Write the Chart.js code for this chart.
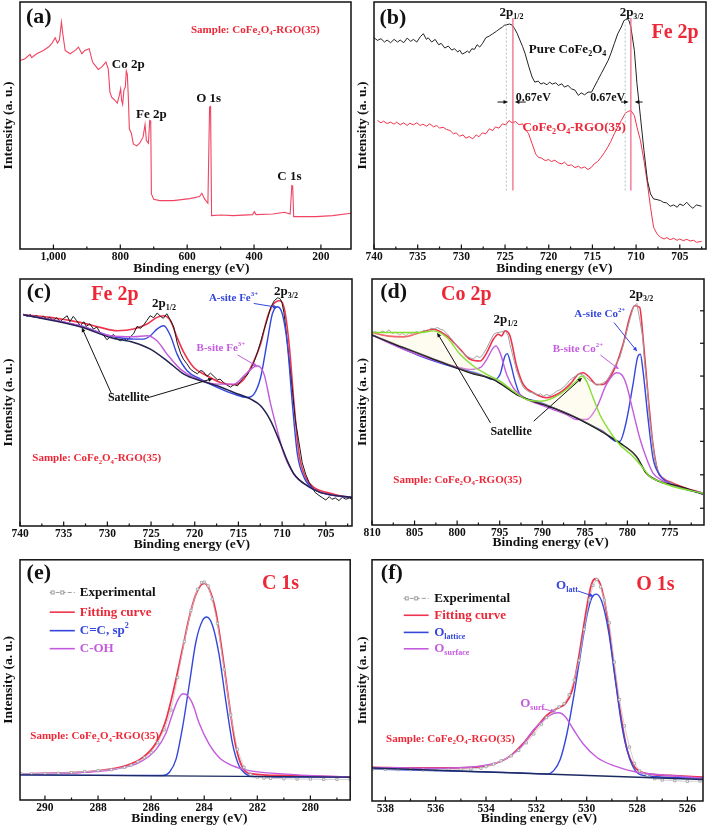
<!DOCTYPE html>
<html>
<head>
<meta charset="utf-8">
<script src="https://cdn.jsdelivr.net/npm/chart.js@4.4.0/dist/chart.umd.min.js"></script>
<style>
  body { margin: 0; background: #fff; }
  .panel { position: absolute; }
</style>
</head>
<body>
<div class="panel" style="left:0;top:0"><canvas id="pa" width="355" height="278"></canvas></div>
<div class="panel" style="left:354px;top:0"><canvas id="pb" width="355" height="278"></canvas></div>
<div class="panel" style="left:0;top:278px"><canvas id="pc" width="355" height="277"></canvas></div>
<div class="panel" style="left:354px;top:278px"><canvas id="pd" width="355" height="277"></canvas></div>
<div class="panel" style="left:0;top:555px"><canvas id="pe" width="355" height="274"></canvas></div>
<div class="panel" style="left:354px;top:555px"><canvas id="pf" width="355" height="274"></canvas></div>
<script>
// ---- tick labels ----
const ticksA = [1000, 800, 600, 400, 200];
const ticksFe = [740, 735, 730, 725, 720, 715, 710, 705];
const ticksCo = [810, 805, 800, 795, 790, 785, 780, 775];
const ticksC = [290, 288, 286, 284, 282, 280];
const ticksO = [538, 536, 534, 532, 530, 528, 526];
const ticksCoY = [640, 543, 445, 347, 250, 150, 50];

// ---- (a) survey spectrum [binding energy, intensity a.u.] ----
const survey = [[1099,565],[1085,570],[1070,583],[1065,573],[1050,585],[1030,595],[1015,605],[1005,615],[995,633],[988,617],[982,627],[976,680],[972,645],[965,595],[950,585],[935,595],[925,605],[915,585],[906,595],[893,600],[883,560],[866,538],[856,545],[843,560],[836,540],[831,470],[826,455],[816,445],[809,437],[803,460],[799,480],[796,445],[793,433],[789,477],[785,485],[782,533],[779,523],[776,455],[773,360],[767,347],[761,315],[751,309],[742,317],[732,335],[726,373],[722,325],[716,317],[712,385],[709,383],[707,165],[700,149],[682,145],[642,145],[592,151],[563,157],[556,167],[548,150],[538,137],[533,425],[530,427],[527,100],[498,102],[463,100],[404,103],[399,112],[394,103],[344,105],[309,110],[292,105],[287,190],[284.5,189],[281.5,97],[215,97],[165,100],[110,107]];

// ---- (b) Fe 2p comparison ----
const fePure = [[740,633],[739.6,625],[739.2,630],[738.8,620],[738.5,626],[738.1,618],[737.7,628],[737.3,620],[737.0,626],[736.6,618],[736.2,632],[735.8,622],[735.5,628],[735.1,620],[734.7,636],[734.35,645],[734.0,628],[733.8,633],[733.4,620],[733.0,628],[732.6,612],[732.3,616],[731.9,602],[731.5,608],[731.1,596],[730.8,600],[730.4,590],[730.2,596],[729.9,584],[729.6,588],[729.3,593],[729.1,588],[728.8,600],[728.5,598],[728.2,612],[727.9,605],[727.6,615],[727.2,633],[726.8,638],[726.4,645],[726.0,652],[725.7,658],[725.3,665],[725.1,670],[724.8,672],[724.5,674],[724.2,671],[723.9,660],[723.6,645],[723.4,632],[723.0,607],[722.7,585],[722.3,548],[721.9,515],[721.6,500],[721.2,503],[720.9,494],[720.6,498],[720.2,492],[719.9,500],[719.6,494],[719.2,498],[718.9,490],[718.5,495],[718.2,485],[717.8,490],[717.4,480],[717.0,476],[716.6,460],[716.3,468],[715.9,462],[715.5,470],[715.1,470],[714.8,485],[714.4,505],[714.0,525],[713.6,545],[713.2,565],[712.9,585],[712.5,615],[712.1,645],[711.7,665],[711.4,684],[711.0,690],[710.8,683],[710.6,665],[710.2,595],[709.9,495],[709.5,395],[709.1,295],[708.7,205],[708.35,165],[708.0,150],[707.6,148],[707.2,145],[706.9,140],[706.5,138],[706.1,128],[705.7,132],[705.3,125],[705.0,135],[704.6,130],[704.2,140],[703.8,128],[703.5,122],[703.1,132],[702.5,128]];
const feRgo = [[739.6,385],[739.2,378],[738.9,383],[738.5,376],[738.1,380],[737.7,374],[737.4,380],[737.0,372],[736.6,378],[736.2,370],[735.9,377],[735.5,372],[735.1,378],[734.7,370],[734.4,374],[734.0,368],[733.6,375],[733.2,366],[732.8,370],[732.5,362],[732.1,365],[731.7,358],[731.3,355],[730.9,345],[730.6,348],[730.2,338],[729.8,342],[729.5,332],[729.1,337],[728.7,330],[728.3,342],[728.0,336],[727.6,348],[727.2,345],[726.8,360],[726.4,355],[726.1,366],[725.7,362],[725.3,375],[724.9,372],[724.55,385],[724.2,378],[723.8,382],[723.4,372],[723.0,375],[722.7,360],[722.3,345],[721.9,315],[721.5,285],[721.2,275],[720.8,272],[720.4,265],[720.0,268],[719.7,262],[719.3,266],[718.9,258],[718.5,255],[718.2,260],[717.8,250],[717.4,252],[717.0,244],[716.6,248],[716.3,242],[715.9,246],[715.5,238],[715.1,245],[714.8,255],[714.4,262],[714.0,275],[713.6,290],[713.25,305],[712.9,322],[712.5,345],[712.1,365],[711.7,385],[711.2,408],[710.9,412],[710.6,415],[710.2,400],[709.9,365],[709.5,325],[709.1,265],[708.7,195],[708.35,125],[708.0,65],[707.6,45],[707.2,35],[706.8,30],[706.5,34],[706.1,28],[705.7,32],[705.3,26],[705.0,30],[704.6,25],[704.2,29],[703.8,24],[703.4,26],[703.1,20],[702.5,23]];
const pureLines = [724.85, 711.25];
const rgoLines = [724.1, 710.6];
const lineSpan = [175, 680];

// ---- (c) Fe 2p fit ----
const feExp = [[739.6,635],[739.2,628],[738.8,633],[738.5,626],[738.1,630],[737.7,622],[737.3,628],[736.9,620],[736.6,625],[736.2,616],[735.8,624],[735.4,612],[735.0,622],[734.6,630],[734.3,612],[733.9,628],[733.5,615],[733.1,600],[732.7,612],[732.4,598],[732.0,606],[731.6,590],[731.2,596],[730.8,578],[730.4,570],[730.05,558],[729.7,566],[729.3,574],[728.9,560],[728.5,555],[728.1,562],[727.8,556],[727.4,566],[727.0,576],[726.6,598],[726.2,592],[725.8,604],[725.5,615],[725.1,630],[724.7,624],[724.3,638],[723.9,628],[723.6,622],[723.2,636],[722.8,618],[722.4,596],[722.0,548],[721.6,516],[721.3,500],[720.9,486],[720.5,470],[720.1,462],[719.7,456],[719.3,466],[719.0,462],[718.6,448],[718.2,458],[717.8,448],[717.4,438],[717.1,440],[716.7,430],[716.3,422],[715.9,416],[715.5,424],[715.1,420],[714.8,432],[714.4,445],[714.0,452],[713.6,470],[713.2,492],[712.8,522],[712.5,548],[712.1,585],[711.7,618],[711.3,655],[710.9,675],[710.5,684],[710.2,680],[710.0,668],[709.8,640],[709.6,598],[709.2,498],[708.8,400],[708.5,320],[708.1,255],[707.7,190],[707.3,155],[706.9,130],[706.5,112],[706.2,100],[705.8,92],[705.4,85],[705.0,78],[704.6,88],[704.3,80],[703.9,84],[703.5,76],[703.1,86],[702.7,80],[702.3,84],[702.0,80]];
const feFit = [[739.62,633],[736.56,625],[733.11,610],[730.82,595],[728.91,585],[726.99,590],[725.46,605],[724.32,625],[723.55,630],[722.78,615],[722.02,565],[721.25,520],[720.11,475],[718.58,450],[717.05,430],[715.52,423],[714.37,440],[713.22,495],[712.46,545],[711.69,625],[711.12,660],[710.35,675],[709.78,655],[709.2,545],[708.63,365],[708.06,215],[707.29,145],[706.34,115],[704.8,100],[703.27,90],[701.94,85]];
const feA = [[739.62,633],[733.11,600],[729.67,570],[726.99,560],[725.85,560],[725.08,570],[724.32,590],[723.55,600],[722.78,570],[722.02,515],[720.87,465],[719.34,440],[717.43,415],[715.52,395],[713.99,385],[713.22,395],[712.46,445],[711.69,555],[711.12,635],[710.54,657],[709.97,635],[709.4,545],[708.82,365],[708.25,215],[707.48,145],[706.34,110],[704.8,95],[701.94,85]];
const feB = [[739.62,633],[733.11,600],[729.67,570],[726.99,567],[725.46,570],[724.32,555],[723.17,515],[721.64,470],[720.11,445],[717.43,425],[715.52,425],[713.99,460],[712.84,480],[712.07,455],[711.31,365],[710.54,285],[709.78,215],[708.63,155],[707.1,120],[705.57,100],[701.94,85]];
const feBg = [[739.62,633],[733.11,597],[729.67,565],[726.99,550],[725.08,530],[723.17,495],[721.25,455],[719.34,435],[717.43,420],[715.52,400],[713.6,380],[712.46,360],[711.31,315],[710.16,245],[709.4,195],[708.63,155],[707.1,120],[705.57,100],[701.94,85]];

// ---- (d) Co 2p fit ----
const coExp = [[810,575],[809.6,578],[809.2,572],[808.8,580],[808.4,575],[808.0,583],[807.6,572],[807.2,576],[806.8,568],[806.4,572],[806.0,566],[805.6,574],[805.2,570],[804.8,578],[804.3,574],[803.9,582],[803.5,578],[803.1,588],[802.7,586],[802.3,590],[801.9,584],[801.6,582],[801.2,572],[800.8,560],[800.4,548],[800.0,534],[799.6,520],[799.2,512],[798.9,505],[798.5,500],[798.1,496],[797.7,505],[797.3,500],[796.9,512],[796.5,530],[796.1,550],[795.7,570],[795.4,574],[795.0,576],[794.6,578],[794.4,582],[794.0,566],[793.8,540],[793.4,500],[793.0,460],[792.6,432],[792.2,410],[791.8,402],[791.4,396],[791.0,395],[790.6,388],[790.2,392],[789.9,385],[789.5,390],[789.1,386],[788.7,392],[788.3,400],[787.9,404],[787.5,412],[787.1,422],[786.8,432],[786.4,440],[786.0,446],[785.6,452],[785.2,448],[784.8,440],[784.4,432],[784.0,425],[783.6,418],[783.2,420],[782.9,424],[782.5,430],[782.1,445],[781.7,465],[781.3,482],[780.9,500],[780.5,535],[780.1,575],[779.7,615],[779.3,650],[778.9,662],[778.6,622],[778.2,560],[778.0,490],[777.6,390],[777.4,320],[777.0,240],[776.8,200],[776.4,160],[776.0,145],[775.6,135],[775.2,128],[774.8,126],[774.3,118],[773.9,115],[773.5,108],[773.1,105],[772.7,102],[772.3,100],[771.9,96],[771.5,98],[771.1,95]];
const coFit = [[810,575],[808.24,565],[806.29,562],[804.34,575],[802.77,585],[801.21,565],[799.65,525],[798.48,495],[797.3,490],[796.52,515],[795.74,555],[795.16,570],[794.77,565],[794.38,580],[793.79,565],[793.01,475],[792.23,420],[791.05,395],[789.49,380],[787.93,395],[786.76,420],[785.78,450],[785.2,455],[784.41,440],[783.63,420],[782.85,420],[782.07,440],[781.29,480],[780.51,540],[779.73,620],[779.14,655],[778.55,650],[778.16,560],[777.58,390],[776.99,240],[776.41,160],[775.82,140],[774.65,125],[773.09,110],[771.13,95]];
const coSat = [[810,575],[804.34,575],[802.77,580],[801.21,560],[799.65,510],[798.09,475],[796.52,450],[794.96,430],[793.4,400],[791.84,375],[790.27,370],[788.71,380],[787.15,405],[785.98,430],[785.39,445],[784.8,430],[784.02,380],[783.24,330],[782.07,280],[780.9,240],[779.34,205],[778.16,170],[777.38,145],[776.21,130],[774.65,115],[771.13,95]];
const coB = [[810,568],[806.29,525],[802.38,490],[800.43,475],[798.48,465],[797.3,470],[796.52,495],[795.74,530],[795.43,535],[794.96,515],[794.18,450],[793.4,410],[792.62,390],[791.84,375],[790.27,360],[788.71,345],[787.15,330],[785.98,315],[784.8,315],[783.63,350],[782.46,420],[781.29,455],[780.7,450],[780.12,420],[779.34,340],[778.55,260],[777.77,200],[776.99,155],[775.82,132],[771.13,95]];
const coA = [[810,568],[804.34,505],[800.43,472],[797.3,450],[795.74,435],[794.96,450],[794.38,505],[794.1,512],[793.79,490],[793.2,430],[792.62,390],[790.66,370],[788.71,350],[786.76,330],[784.8,305],[782.85,280],[781.29,250],[780.9,250],[780.12,310],[779.34,420],[778.75,505],[778.48,510],[778.16,460],[777.58,320],[776.99,200],[776.21,150],[774.65,120],[771.13,95]];
const coBg = [[810,568],[806.29,530],[802.38,492],[798.48,455],[795.74,435],[792.62,385],[788.71,350],[784.8,305],[780.9,245],[778.95,205],[777.77,155],[776.21,130],[773.87,115],[771.13,92]];

// ---- (e) C 1s fit ----
const cExp = [[290.9,80],[290.5,80],[290.0,81],[289.5,82],[289.0,84],[288.5,87],[288.0,90],[287.5,93],[287.0,100],[286.75,107],[286.5,117],[286.25,130],[286.0,145],[285.75,175],[285.5,215],[285.25,275],[285.0,375],[284.75,485],[284.5,580],[284.25,645],[284.1,665],[284.0,667],[283.85,655],[283.7,615],[283.5,540],[283.25,400],[283.0,260],[282.75,155],[282.5,100],[282.25,78],[282.0,70],[281.75,67],[281.5,66],[281.0,65],[280.5,64],[280.0,64],[279.5,63],[279.0,63],[278.5,63]];
const cFit = [[290.94,80],[289.19,83],[287.94,90],[286.94,105],[286.31,130],[285.81,175],[285.44,245],[285.13,345],[284.81,465],[284.56,560],[284.31,630],[284.13,657],[284.0,663],[283.81,645],[283.56,575],[283.31,445],[283.06,295],[282.81,165],[282.56,100],[282.19,80],[281.06,75],[278.5,70]];
const cSp2 = [[290.94,77],[285.94,75],[285.56,75],[285.31,85],[285.06,125],[284.81,225],[284.56,355],[284.31,485],[284.06,550],[283.91,560],[283.69,535],[283.44,445],[283.19,305],[282.94,175],[282.69,105],[282.44,80],[282.19,72],[278.5,70]];
const cOH = [[290.94,80],[288.56,85],[287.31,95],[286.44,115],[285.81,155],[285.44,205],[285.19,265],[285.0,305],[284.81,325],[284.69,323],[284.44,295],[284.19,235],[283.81,170],[283.44,130],[282.94,105],[282.31,90],[281.06,80],[278.5,70]];
const cBg = [[290.94,77],[278.5,70]];

// ---- (f) O 1s fit ----
const oExp = [[538.5,98],[538.0,97],[537.5,96],[537.0,96],[536.5,95],[536.0,94],[535.5,95],[535.0,97],[534.6,98],[534.2,100],[534.0,105],[533.7,113],[533.4,123],[533.0,138],[532.7,155],[532.4,178],[532.1,205],[531.8,235],[531.6,255],[531.3,275],[531.1,288],[530.9,298],[530.7,325],[530.5,370],[530.3,430],[530.1,525],[529.9,615],[529.75,660],[529.6,678],[529.45,655],[529.3,615],[529.1,545],[528.9,425],[528.7,310],[528.5,230],[528.3,165],[528.1,115],[527.9,92],[527.6,78],[527.3,68],[527.0,64],[526.5,62],[526.0,60],[525.5,61]];
const oFit = [[538.53,103],[536.61,101],[534.62,103],[533.7,113],[533.03,138],[532.5,178],[531.97,228],[531.58,263],[531.18,283],[530.85,298],[530.58,338],[530.32,438],[530.05,568],[529.83,658],[529.66,680],[529.46,663],[529.19,568],[528.93,418],[528.66,268],[528.4,158],[528.13,108],[527.74,86],[526.68,78],[525.38,73]];
const oLatt = [[538.53,98],[532.64,86],[531.58,83],[531.31,93],[531.05,128],[530.78,208],[530.52,318],[530.25,448],[529.99,568],[529.79,623],[529.62,633],[529.39,608],[529.13,518],[528.86,368],[528.6,228],[528.33,138],[528.07,93],[527.74,78],[525.38,70]];
const oSurf = [[538.53,103],[535.95,100],[533.96,110],[533.3,126],[532.64,163],[532.11,218],[531.71,248],[531.31,268],[531.11,270],[530.85,258],[530.52,218],[530.12,173],[529.59,133],[528.93,108],[528.0,88],[526.68,78],[525.38,70]];
const oBg = [[538.53,101],[525.38,66]];

// ---- styles ----
const FONT = '"Liberation Serif", "Times New Roman", serif';
const RED = '#f0324c';
const RED_T = '#ec2838';
const BLUE = '#3446dc';
const PURPLE = '#c45ade';
const GREEN = '#84e030';
const GRAY = '#9c9c9c';
const INK = '#111';

function parseRich(s) {
    const parts = [];
    const re = /([_^])\{([^}]*)\}/g;
    let last = 0, m;
    while ((m = re.exec(s))) {
        if (m.index > last) parts.push({ t: s.slice(last, m.index), k: 0 });
        parts.push({ t: m[2], k: m[1] === '_' ? 1 : 2 });
        last = re.lastIndex;
    }
    if (last < s.length) parts.push({ t: s.slice(last), k: 0 });
    return parts;
}

function drawRich(ctx, s, x, y, size, color, align) {
    const parts = parseRich(s);
    ctx.save();
    ctx.fillStyle = color;
    ctx.textBaseline = 'middle';
    ctx.textAlign = 'left';
    let w = 0;
    parts.forEach(p => {
        ctx.font = `bold ${p.k ? size * 0.62 : size}px ${FONT}`;
        p.w = ctx.measureText(p.t).width;
        w += p.w;
    });
    let cx = align === 'left' ? x : x - w / 2;
    parts.forEach(p => {
        ctx.font = `bold ${p.k ? size * 0.62 : size}px ${FONT}`;
        const dy = p.k === 1 ? size * 0.32 : p.k === 2 ? -size * 0.38 : 0;
        ctx.fillText(p.t, cx, y + dy);
        cx += p.w;
    });
    ctx.restore();
}

function arrow(ctx, x1, y1, x2, y2, color) {
    const a = Math.atan2(y2 - y1, x2 - x1), h = 5;
    ctx.save();
    ctx.strokeStyle = color; ctx.fillStyle = color; ctx.lineWidth = 1;
    ctx.beginPath(); ctx.moveTo(x1, y1); ctx.lineTo(x2 - Math.cos(a) * 3, y2 - Math.sin(a) * 3); ctx.stroke();
    ctx.beginPath();
    ctx.moveTo(x2, y2);
    ctx.lineTo(x2 - h * Math.cos(a - 0.4), y2 - h * Math.sin(a - 0.4));
    ctx.lineTo(x2 - h * Math.cos(a + 0.4), y2 - h * Math.sin(a + 0.4));
    ctx.closePath(); ctx.fill();
    ctx.restore();
}

// frame, inward ticks, x title, labels, arrows and legend
const decor = {
    id: 'decor',
    afterDatasetsDraw(chart, args, o) {
        const ctx = chart.ctx, ca = chart.chartArea;
        const px = f => ca.left + f * (ca.right - ca.left);
        const py = f => ca.top + f * (ca.bottom - ca.top);
        const xs = chart.scales.x, ys = chart.scales.y;
        ctx.save();
        ctx.strokeStyle = INK;
        ctx.lineWidth = 1.5;
        ctx.strokeRect(ca.left, ca.top, ca.right - ca.left, ca.bottom - ca.top);

        ctx.lineWidth = 1.2;
        const vals = xs.ticks.map(t => t.value);
        const step = Math.abs(vals[1] - vals[0]);
        const lo = Math.min(xs.min, xs.max), hi = Math.max(xs.min, xs.max);
        vals.forEach(v => {
            const p = xs.getPixelForValue(v);
            ctx.beginPath(); ctx.moveTo(p, ca.bottom); ctx.lineTo(p, ca.bottom - 4.5); ctx.stroke();
        });
        const minors = new Set();
        vals.forEach(v => [v - step / 2, v + step / 2].forEach(m => { if (m > lo && m < hi) minors.add(m); }));
        minors.forEach(v => {
            const p = xs.getPixelForValue(v);
            ctx.beginPath(); ctx.moveTo(p, ca.bottom); ctx.lineTo(p, ca.bottom - 2.5); ctx.stroke();
        });
        if (o.rightTicks) {
            ys.ticks.forEach(t => {
                const p = ys.getPixelForValue(t.value);
                ctx.beginPath(); ctx.moveTo(ca.right, p); ctx.lineTo(ca.right - 4, p); ctx.stroke();
            });
        }
        ctx.restore();

        drawRich(ctx, 'Binding energy (eV)', px(o.titleX), ca.bottom + o.titleDy, 13.5, INK, 'center');
        (o.texts || []).forEach(t => drawRich(ctx, t.s, px(t.fx), py(t.fy), t.size || 13, t.c || INK, t.align || 'center'));
        (o.arrows || []).forEach(a => arrow(ctx, px(a[0]), py(a[1]), px(a[2]), py(a[3]), a[4] || INK));

        if (o.legend) {
            const L = o.legend;
            L.items.forEach((it, i) => {
                const y = py(L.rows[i]), x0 = px(L.x0), x1 = px(L.x1);
                ctx.save();
                ctx.strokeStyle = it.line;
                ctx.lineWidth = it.exp ? 1 : 1.6;
                if (it.exp) ctx.setLineDash([4, 2]);
                ctx.beginPath(); ctx.moveTo(x0, y); ctx.lineTo(x1, y); ctx.stroke();
                ctx.setLineDash([]);
                if (it.exp) {
                    [x0 + 3, (x0 + x1) / 2].forEach(x => {
                        ctx.fillStyle = '#fff'; ctx.fillRect(x - 1.5, y - 1.5, 3, 3);
                        ctx.strokeRect(x - 1.5, y - 1.5, 3, 3);
                    });
                }
                ctx.restore();
                drawRich(ctx, it.s, px(L.tx), y, 13, it.c, 'left');
            });
        }
    }
};
Chart.register(decor);

function series(data, color, width, extra) {
    return Object.assign({
        data: data.map(p => ({ x: p[0], y: p[1] })),
        borderColor: color,
        borderWidth: width,
        pointRadius: 0,
        fill: false,
        tension: 0
    }, extra || {});
}
const smooth = { cubicInterpolationMode: 'monotone' };
const dots = { pointRadius: 1.6, pointStyle: 'rect', pointBorderColor: GRAY, pointBackgroundColor: '#fff', pointBorderWidth: 0.8 };

function makePanel(id, cfg) {
    new Chart(document.getElementById(id), {
        type: 'line',
        data: { datasets: cfg.datasets },
        options: {
            responsive: false,
            animation: false,
            events: [],
            layout: { padding: { left: 0, top: cfg.top, right: cfg.right, bottom: 0 } },
            plugins: { legend: { display: false }, tooltip: { enabled: false }, decor: cfg.decor },
            scales: {
                x: {
                    type: 'linear', reverse: true, min: cfg.xmin, max: cfg.xmax,
                    grid: { display: false, drawTicks: false }, border: { display: false },
                    ticks: { font: { family: FONT, size: 11.5, weight: 'bold' }, color: INK, padding: 1, maxRotation: 0, autoSkip: false },
                    afterBuildTicks: s => { s.ticks = cfg.xticks.map(v => ({ value: v })); },
                    afterFit: s => { s.height = cfg.xh; }
                },
                y: {
                    type: 'linear', min: 0, max: cfg.ymax,
                    grid: { display: false, drawTicks: false }, border: { display: false },
                    ticks: { display: false },
                    title: { display: true, text: 'Intensity (a. u.)', font: { family: FONT, size: 13.5, weight: 'bold' }, color: INK, padding: 0 },
                    afterBuildTicks: s => { if (cfg.yticks) s.ticks = cfg.yticks.map(v => ({ value: v })); },
                    afterFit: s => { s.width = cfg.yw; }
                }
            }
        }
    });
}

const sampleText = 'Sample: CoFe_{2}O_{4}-RGO(35)';

// (a)
makePanel('pa', {
    top: 2, right: 4, yw: 20, xh: 29, xmin: 110, xmax: 1100, xticks: ticksA, ymax: 740,
    datasets: [series(survey, '#f04462', 1.1)],
    decor: {
        titleX: 0.518, titleDy: 20,
        texts: [
            { s: '(a)', fx: 0.057, fy: 0.061, size: 22 },
            { s: sampleText, fx: 0.711, fy: 0.112, size: 11, c: RED_T },
            { s: 'Co 2p', fx: 0.327, fy: 0.253 },
            { s: 'Fe 2p', fx: 0.397, fy: 0.455 },
            { s: 'O 1s', fx: 0.570, fy: 0.392 },
            { s: 'C 1s', fx: 0.814, fy: 0.707 }
        ]
    }
});

// (b)
const vlines = [];
pureLines.forEach(v => vlines.push(series([[v, lineSpan[0]], [v, lineSpan[1]]], '#b4c0c0', 1, { borderDash: [2, 2] })));
rgoLines.forEach(v => vlines.push(series([[v, lineSpan[0]], [v, lineSpan[1] + 12]], '#f06a8a', 1.3)));
makePanel('pb', {
    top: 2, right: 3, yw: 20, xh: 29, xmin: 702, xmax: 740, xticks: ticksFe, ymax: 740,
    datasets: vlines.concat([series(fePure, '#222', 1), series(feRgo, RED, 1)]),
    decor: {
        titleX: 0.543, titleDy: 20,
        texts: [
            { s: '(b)', fx: 0.057, fy: 0.068, size: 22 },
            { s: '2p_{1/2}', fx: 0.414, fy: 0.045 },
            { s: '2p_{3/2}', fx: 0.776, fy: 0.045 },
            { s: 'Fe 2p', fx: 0.907, fy: 0.124, size: 20, c: RED_T },
            { s: 'Pure CoFe_{2}O_{4}', fx: 0.583, fy: 0.193 },
            { s: '0.67eV', fx: 0.480, fy: 0.388, size: 12 },
            { s: '0.67eV', fx: 0.704, fy: 0.388, size: 12 },
            { s: 'CoFe_{2}O_{4}-RGO(35)', fx: 0.603, fy: 0.509, c: RED_T }
        ],
        arrows: [[0.372, 0.405, 0.404, 0.405], [0.457, 0.405, 0.424, 0.405], [0.744, 0.405, 0.767, 0.405], [0.809, 0.405, 0.785, 0.405]]
    }
});

// (c)
makePanel('pc', {
    top: 1, right: 3, yw: 20, xh: 29, xmin: 702, xmax: 740, xticks: ticksFe, ymax: 740,
    datasets: [
        series(feBg, '#22224e', 1.5, smooth),
        series(feB, PURPLE, 1.4, smooth),
        series(feA, BLUE, 1.4, smooth),
        series(feExp, '#1a1a1a', 1),
        series(feFit, RED, 1.6, smooth)
    ],
    decor: {
        titleX: 0.518, titleDy: 19,
        texts: [
            { s: '(c)', fx: 0.057, fy: 0.054, size: 22 },
            { s: 'Fe 2p', fx: 0.286, fy: 0.064, size: 20, c: RED_T },
            { s: '2p_{1/2}', fx: 0.434, fy: 0.099 },
            { s: '2p_{3/2}', fx: 0.801, fy: 0.050 },
            { s: 'A-site Fe^{3+}', fx: 0.643, fy: 0.077, size: 11, c: BLUE },
            { s: 'B-site Fe^{3+}', fx: 0.605, fy: 0.280, size: 11, c: PURPLE },
            { s: 'Satellite', fx: 0.327, fy: 0.482, size: 12 },
            { s: sampleText, fx: 0.231, fy: 0.726, size: 11, c: RED_T }
        ],
        arrows: [
            [0.704, 0.099, 0.776, 0.115, BLUE],
            [0.655, 0.307, 0.716, 0.355, PURPLE],
            [0.276, 0.466, 0.186, 0.196],
            [0.387, 0.480, 0.581, 0.403]
        ]
    }
});

// (d)
makePanel('pd', {
    top: 1, right: 5, yw: 18, xh: 30, xmin: 771, xmax: 810, xticks: ticksCo, ymax: 735, yticks: ticksCoY,
    datasets: [
        series(coSat, GREEN, 1.4, Object.assign({ fill: '+1', backgroundColor: 'rgba(250,242,200,0.28)' }, smooth)),
        series(coBg, '#111', 1.6, smooth),
        series(coB, PURPLE, 1.4, smooth),
        series(coA, BLUE, 1.4, smooth),
        series(coExp, '#a0a0a0', 1),
        series(coFit, RED, 1.6, smooth)
    ],
    decor: {
        titleX: 0.538, titleDy: 18, rightTicks: true,
        texts: [
            { s: '(d)', fx: 0.065, fy: 0.054, size: 22 },
            { s: 'Co 2p', fx: 0.284, fy: 0.064, size: 20, c: RED_T },
            { s: '2p_{1/2}', fx: 0.402, fy: 0.166 },
            { s: '2p_{3/2}', fx: 0.811, fy: 0.064 },
            { s: 'A-site Co^{2+}', fx: 0.686, fy: 0.143, size: 11, c: BLUE },
            { s: 'B-site Co^{2+}', fx: 0.620, fy: 0.286, size: 11, c: PURPLE },
            { s: 'Satellite', fx: 0.419, fy: 0.622, size: 12 },
            { s: sampleText, fx: 0.258, fy: 0.816, size: 11, c: RED_T }
        ],
        arrows: [
            [0.729, 0.177, 0.799, 0.295, BLUE],
            [0.688, 0.309, 0.744, 0.367, PURPLE],
            [0.357, 0.585, 0.196, 0.218],
            [0.487, 0.578, 0.633, 0.401]
        ]
    }
});

// (e)
makePanel('pe', {
    top: 1, right: 3, yw: 20, xh: 29, xmin: 278.5, xmax: 290.94, xticks: ticksC, ymax: 735,
    datasets: [
        series(cBg, '#1c2a60', 1.4),
        series(cExp, '#c4c4c4', 0.8, dots),
        series(cOH, PURPLE, 1.4, smooth),
        series(cSp2, BLUE, 1.4, smooth),
        series(cFit, RED, 1.8, smooth)
    ],
    decor: {
        titleX: 0.513, titleDy: 19,
        texts: [
            { s: '(e)', fx: 0.057, fy: 0.057, size: 22 },
            { s: 'C 1s', fx: 0.789, fy: 0.102, size: 20, c: RED_T },
            { s: sampleText, fx: 0.226, fy: 0.735, size: 11, c: RED_T }
        ],
        legend: {
            x0: 0.090, x1: 0.166, tx: 0.181, rows: [0.136, 0.218, 0.295, 0.370],
            items: [
                { s: 'Experimental', c: INK, line: GRAY, exp: true },
                { s: 'Fitting curve', c: RED_T, line: RED },
                { s: 'C=C, sp^{2}', c: BLUE, line: BLUE },
                { s: 'C-OH', c: PURPLE, line: PURPLE }
            ]
        }
    }
});

// (f)
makePanel('pf', {
    top: 1, right: 6, yw: 18, xh: 28, xmin: 525.38, xmax: 538.53, xticks: ticksO, ymax: 738,
    datasets: [
        series(oBg, '#1c2a60', 1.4),
        series(oExp, '#c4c4c4', 0.8, dots),
        series(oSurf, PURPLE, 1.4, smooth),
        series(oLatt, BLUE, 1.4, smooth),
        series(oFit, RED, 1.8, smooth)
    ],
    decor: {
        titleX: 0.504, titleDy: 18,
        texts: [
            { s: '(f)', fx: 0.060, fy: 0.054, size: 22 },
            { s: 'O 1s', fx: 0.856, fy: 0.102, size: 20, c: RED_T },
            { s: 'O_{latt}', fx: 0.589, fy: 0.106, c: BLUE },
            { s: 'O_{surf}', fx: 0.484, fy: 0.596, c: PURPLE },
            { s: sampleText, fx: 0.237, fy: 0.743, size: 11, c: RED_T }
        ],
        arrows: [
            [0.622, 0.129, 0.670, 0.152, BLUE],
            [0.514, 0.617, 0.554, 0.630, PURPLE]
        ],
        legend: {
            x0: 0.096, x1: 0.171, tx: 0.188, rows: [0.160, 0.230, 0.301, 0.369],
            items: [
                { s: 'Experimental', c: INK, line: GRAY, exp: true },
                { s: 'Fitting curve', c: RED_T, line: RED },
                { s: 'O_{lattice}', c: BLUE, line: BLUE },
                { s: 'O_{surface}', c: PURPLE, line: PURPLE }
            ]
        }
    }
});
</script>
</body>
</html>
